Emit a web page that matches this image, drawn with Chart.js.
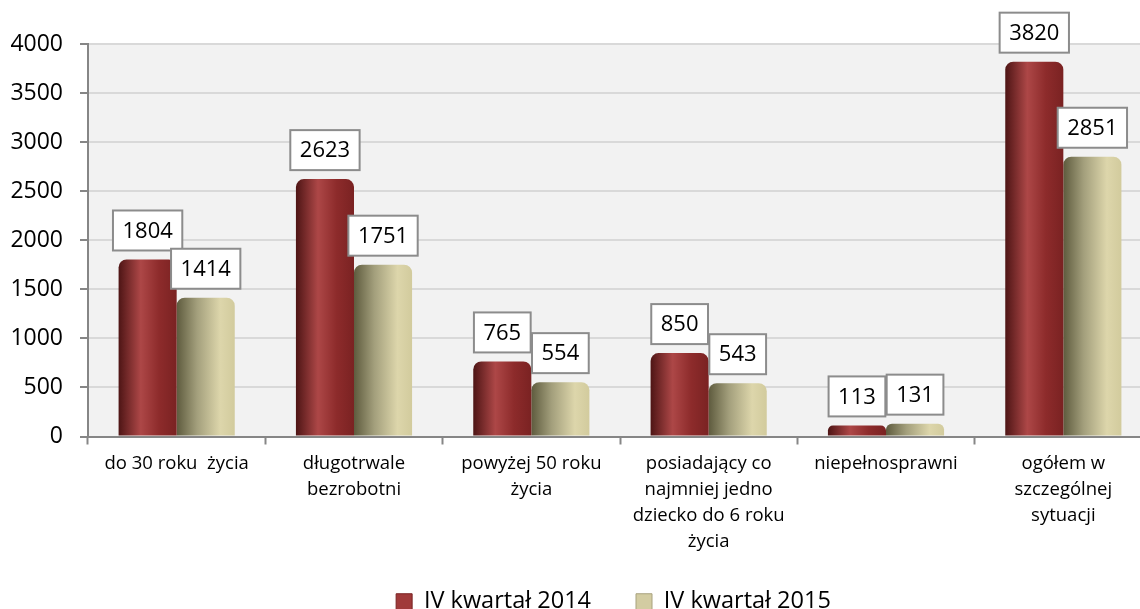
<!DOCTYPE html>
<html>
<head>
<meta charset="utf-8">
<script src="https://cdn.jsdelivr.net/npm/chart.js@4"></script>
<style>
  html, body { margin: 0; padding: 0; background: #fff; overflow: hidden; }
  /* wykres jest szerszy niz okno, tak jak w oryginale prawa krawedz jest ucieta */
  #okno { width: 1140px; height: 609px; overflow: hidden; position: relative; }
  #grafik_slupkowy { position: absolute; left: 0; top: 0; }
</style>
</head>
<body>
<div id="okno"><canvas id="grafik_slupkowy" width="1160" height="639"></canvas></div>
<script>
// Dane wykresu
var kategorie = [
  "do 30 roku  życia",
  ["długotrwale", "bezrobotni"],
  ["powyżej 50 roku", "życia"],
  ["posiadający co", "najmniej jedno", "dziecko do 6 roku", "życia"],
  "niepełnosprawni",
  ["ogółem w", "szczególnej", "sytuacji"]
];
var nazwy_serii = ["IV kwartał 2014", "IV kwartał 2015"];
var skor_2014 = [1804, 2623, 765, 850, 113, 3820];
var skor_2015 = [1414, 1751, 554, 543, 131, 2851];
var ticki_y = [0, 500, 1000, 1500, 2000, 2500, 3000, 3500, 4000];

const FONT = "'Open Sans', 'DejaVu Sans', sans-serif";
const procent_kategorii = 0.655;

// Gradient poziomy, zeby slupek wygladal jak walec
function gradientSlupka(ctx, przystanki) {
  const chart = ctx.chart;
  const skala = chart.scales.x;
  if (!skala || ctx.dataIndex === undefined || !skala.width) return przystanki[2][1];
  const srodek = skala.getPixelForValue(ctx.dataIndex);
  const szer = (skala.width / kategorie.length) * procent_kategorii / 2;
  const x0 = ctx.datasetIndex === 0 ? srodek - szer : srodek;
  const g = chart.ctx.createLinearGradient(x0, 0, x0 + szer, 0);
  przystanki.forEach(function (p) { g.addColorStop(p[0], p[1]); });
  return g;
}

const kolory_2014 = [[0, "#4e1515"], [0.38, "#ad4747"], [0.7, "#8d2b2b"], [1, "#7a2222"]];
const kolory_2015 = [[0, "#5e5b3e"], [0.35, "#a39f7c"], [0.75, "#ddd6ab"], [1, "#d2cb9d"]];

// Tlo obszaru wykresu + przesuniecie legendy (jak w Excelu)
const tloWykresu = {
  id: "tloWykresu",
  afterLayout(chart) {
    const lg = chart.legend;
    const h = lg.bottom - lg.top;
    lg.left = 75;
    lg.top = 545;
    lg.bottom = lg.top + h;
  },
  beforeDraw(chart) {
    const a = chart.chartArea;
    const c = chart.ctx;
    c.save();
    c.fillStyle = "#f2f2f2";
    c.fillRect(a.left, a.top, a.right - a.left, a.bottom - a.top);
    c.restore();
  }
};

// Etykiety wartosci w ramkach nad slupkami
const etykietyWartosci = {
  id: "etykietyWartosci",
  afterDatasetsDraw(chart) {
    const c = chart.ctx;
    c.save();
    c.font = "22px " + FONT;
    c.textAlign = "center";
    c.textBaseline = "middle";
    chart.data.datasets.forEach(function (ds, di) {
      chart.getDatasetMeta(di).data.forEach(function (el, i) {
        const tekst = String(ds.data[i]);
        const w = c.measureText(tekst).width + 19;
        const h = 40;
        const x = el.x - w / 2;
        const y = el.y - 9 - h;
        c.fillStyle = "#ffffff";
        c.fillRect(x, y, w, h);
        c.strokeStyle = "#8c8c8c";
        c.lineWidth = 2;
        c.strokeRect(x, y, w, h);
        c.fillStyle = "#000000";
        c.fillText(tekst, el.x, y + h / 2 + 1);
      });
    });
    c.restore();
  }
};

const data = {
  labels: kategorie,
  datasets: [
    {
      label: nazwy_serii[0],
      data: skor_2014,
      backgroundColor: (ctx) => gradientSlupka(ctx, kolory_2014),
      borderRadius: { topLeft: 8, topRight: 8 },
      borderSkipped: "bottom"
    },
    {
      label: nazwy_serii[1],
      data: skor_2015,
      backgroundColor: (ctx) => gradientSlupka(ctx, kolory_2015),
      borderRadius: { topLeft: 8, topRight: 8 },
      borderSkipped: "bottom"
    }
  ]
};

const config = {
  type: "bar",
  data: data,
  plugins: [tloWykresu, etykietyWartosci],
  options: {
    responsive: false,
    animation: false,
    layout: { padding: { top: 44, left: 8, right: 8, bottom: 0 } },
    datasets: {
      bar: { categoryPercentage: procent_kategorii, barPercentage: 1.0 }
    },
    plugins: {
      tooltip: { enabled: false },
      legend: {
        position: "bottom",
        labels: {
          font: { family: FONT, size: 23.5 },
          color: "#000",
          boxWidth: 16,
          boxHeight: 16,
          padding: 45,
          generateLabels: function () {
            return [
              { text: nazwy_serii[0], fillStyle: "#a03a3a", strokeStyle: "#7a2222", lineWidth: 1, datasetIndex: 0 },
              { text: nazwy_serii[1], fillStyle: "#d3cca2", strokeStyle: "#a8a27e", lineWidth: 1, datasetIndex: 1 }
            ];
          }
        }
      }
    },
    scales: {
      x: {
        offset: true,
        afterFit: function (s) { s.height = 124; },
        grid: {
          drawOnChartArea: false,
          drawTicks: true,
          tickLength: 8,
          tickColor: "#868686",
          tickWidth: 2,
          offset: true
        },
        border: { color: "#868686", width: 2 },
        ticks: {
          font: { family: FONT, size: 18.5, lineHeight: 1.405 },
          color: "#000",
          padding: 6,
          maxRotation: 0,
          autoSkip: false
        }
      },
      y: {
        min: 0,
        max: 4000,
        afterFit: function (s) { s.width = 80; },
        afterBuildTicks: function (s) {
          s.ticks = ticki_y.map(function (v) { return { value: v }; });
        },
        grid: {
          color: "#d9d9d9",
          lineWidth: 2,
          tickColor: "#868686",
          tickLength: 8
        },
        border: { color: "#868686", width: 2 },
        ticks: {
          font: { family: FONT, size: 23 },
          color: "#000",
          padding: 17,
          callback: function (v) { return String(v); }
        }
      }
    }
  }
};

const grafik = document.getElementById("grafik_slupkowy").getContext("2d");
const grafik_slupkowy = new Chart(grafik, config);
</script>
</body>
</html>
